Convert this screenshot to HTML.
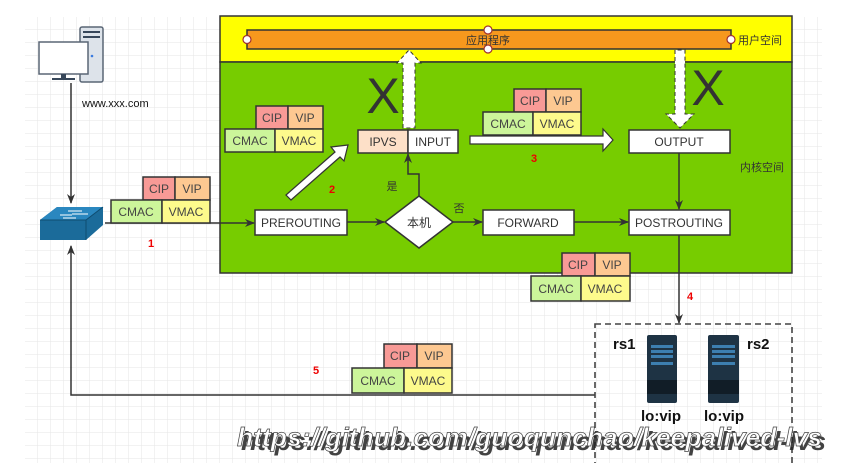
<!DOCTYPE html>
<html><head><meta charset="utf-8"><style>
html,body{margin:0;padding:0;background:#fff;}
svg{display:block;}
text{font-family:"Liberation Sans","Noto Sans CJK SC",sans-serif;}
</style></head><body>
<svg width="865" height="463" viewBox="0 0 865 463" xmlns="http://www.w3.org/2000/svg">
<defs>
<pattern id="g" width="13" height="13" patternUnits="userSpaceOnUse" x="25" y="17">
<path d="M13 0V13H0" fill="none" stroke="#e6e6e6" stroke-width="1"/>
</pattern>
<marker id="a" markerWidth="10" markerHeight="10" refX="9" refY="5" orient="auto" markerUnits="userSpaceOnUse"><path d="M0,1 L10,5 L0,9 L3,5z" fill="#333"/></marker>
</defs>
<rect x="25" y="17" width="797" height="446" fill="url(#g)"/>
<rect x="220" y="16" width="572" height="46" fill="#ffff00" stroke="#333" stroke-width="1.5"/>
<rect x="220" y="62" width="572" height="211" fill="#77cc00" stroke="#333" stroke-width="1.5"/>
<rect x="247" y="30" width="484" height="19" fill="#f7981d" stroke="#333" stroke-width="1.5"/>
<g fill="#fff" stroke="#a03030" stroke-width="1.2"><circle cx="247" cy="39.5" r="4"/><circle cx="488" cy="30" r="4"/><circle cx="488" cy="49" r="4"/><circle cx="731" cy="39.5" r="4"/></g>
<text x="488" y="44" font-size="11" text-anchor="middle" fill="#333">应用程序</text>
<text x="738" y="44" font-size="11" fill="#333">用户空间</text>
<text x="740" y="171" font-size="11" fill="#333">内核空间</text>
<text x="383" y="113" font-size="50" text-anchor="middle" fill="#333">X</text>
<text x="708" y="105" font-size="50" text-anchor="middle" fill="#333">X</text>
<path d="M403,128 V63 H397 L409,50 L421,63 H415 V128 Z" fill="#fff" stroke="#333" stroke-width="1" stroke-dasharray="4,3"/>
<path d="M675,50 V114 H666 L680,128 L694,114 H685 V50 Z" fill="#fff" stroke="#333" stroke-width="1" stroke-dasharray="4,3"/>
<g stroke="#333" stroke-width="1.5" font-size="12" fill="#333">
<rect x="358" y="130" width="50" height="23" fill="#fde0c8"/><rect x="408" y="130" width="50" height="23" fill="#fff"/>
<rect x="629" y="130" width="101" height="23" fill="#fff"/>
<rect x="255" y="210" width="92" height="25" fill="#fff"/>
<rect x="483" y="210" width="91" height="25" fill="#fff"/>
<rect x="629" y="210" width="101" height="25" fill="#fff"/>
<path d="M419,196 L453,222 L419,248 L385,222 Z" fill="#fff"/>
</g>
<g font-size="12" fill="#333" text-anchor="middle">
<text x="383" y="146">IPVS</text><text x="433" y="146">INPUT</text>
<text x="679" y="146">OUTPUT</text><text x="301" y="227">PREROUTING</text>
<text x="528" y="227">FORWARD</text><text x="679" y="227">POSTROUTING</text>
<text x="419" y="227">本机</text>
<text x="392" y="190" font-size="11">是</text><text x="459" y="212" font-size="11">否</text>
</g>
<g stroke="#333" stroke-width="1.5" fill="none">
<path d="M71,83 V203" marker-end="url(#a)"/>
<path d="M105,223 H254" marker-end="url(#a)"/>
<path d="M347,222 H384" marker-end="url(#a)"/>
<path d="M453,222 H482" marker-end="url(#a)"/>
<path d="M574,222 H628" marker-end="url(#a)"/>
<path d="M679,153 V209" marker-end="url(#a)"/>
<path d="M419,196 V174 H408 V154" marker-end="url(#a)"/>
<path d="M679,235 V323" marker-end="url(#a)"/>
<path d="M595,395 H71 V246" marker-end="url(#a)"/>
</g>
<path d="M286,195 L335,152 L331,147 L348,145 L344,161 L340,157 L291,200 Z" fill="#fff" stroke="#333" stroke-width="1.2"/>
<path d="M470,136 H603 V129 L613,140 L603,151 V144 H470 Z" fill="#fff" stroke="#333" stroke-width="1.2"/>
<g stroke="#333" stroke-width="1.5" font-size="12" fill="#333">
<rect x="143" y="177" width="32" height="23" fill="#f89a96"/><rect x="175" y="177" width="35" height="23" fill="#fdc891"/>
<rect x="111" y="200" width="51" height="23" fill="#ccf59a"/><rect x="162" y="200" width="48" height="23" fill="#fdfa8c"/>
<rect x="256" y="106" width="32" height="23" fill="#f89a96"/><rect x="288" y="106" width="35" height="23" fill="#fdc891"/>
<rect x="225" y="129" width="50" height="23" fill="#ccf59a"/><rect x="275" y="129" width="48" height="23" fill="#fdfa8c"/>
<rect x="514" y="89" width="32" height="23" fill="#f89a96"/><rect x="546" y="89" width="35" height="23" fill="#fdc891"/>
<rect x="483" y="112" width="50" height="23" fill="#ccf59a"/><rect x="533" y="112" width="48" height="23" fill="#fdfa8c"/>
<rect x="562" y="253" width="33" height="23" fill="#f89a96"/><rect x="595" y="253" width="35" height="23" fill="#fdc891"/>
<rect x="531" y="276" width="50" height="25" fill="#ccf59a"/><rect x="581" y="276" width="49" height="25" fill="#fdfa8c"/>
<rect x="384" y="344" width="33" height="24" fill="#f89a96"/><rect x="417" y="344" width="35" height="24" fill="#fdc891"/>
<rect x="352" y="368" width="52" height="25" fill="#ccf59a"/><rect x="404" y="368" width="48" height="25" fill="#fdfa8c"/>
</g>
<g font-size="12" fill="#444" text-anchor="middle">
<text x="159" y="193">CIP</text><text x="192" y="193">VIP</text><text x="136" y="216">CMAC</text><text x="186" y="216">VMAC</text>
<text x="272" y="122">CIP</text><text x="305" y="122">VIP</text><text x="250" y="145">CMAC</text><text x="299" y="145">VMAC</text>
<text x="530" y="105">CIP</text><text x="563" y="105">VIP</text><text x="508" y="128">CMAC</text><text x="557" y="128">VMAC</text>
<text x="578" y="269">CIP</text><text x="612" y="269">VIP</text><text x="556" y="293">CMAC</text><text x="605" y="293">VMAC</text>
<text x="400" y="360">CIP</text><text x="434" y="360">VIP</text><text x="378" y="385">CMAC</text><text x="428" y="385">VMAC</text>
</g>
<g font-size="11" font-weight="bold" fill="#e00" text-anchor="middle">
<text x="151" y="247">1</text><text x="332" y="193">2</text><text x="534" y="162">3</text><text x="690" y="300">4</text><text x="316" y="374">5</text>
</g>
<rect x="80" y="27" width="23" height="55" rx="2" fill="#dde3ea" stroke="#5a6675" stroke-width="1.5"/>
<rect x="83" y="31" width="17" height="2" fill="#37475a"/><rect x="83" y="36" width="17" height="2" fill="#37475a"/>
<circle cx="92" cy="56" r="1.3" fill="#3a7be0"/>
<rect x="39" y="42" width="49" height="32" fill="#fff" stroke="#5a6675" stroke-width="1.5"/>
<rect x="61" y="74" width="5" height="4" fill="#37475a"/><rect x="52" y="78" width="23" height="2" fill="#37475a"/>
<text x="82" y="107" font-size="11" fill="#111">www.xxx.com</text>
<path d="M40,220 L57,207 H103 V225 L86,240 H40 Z" fill="#1b6b9a"/>
<path d="M40,220 L57,207 H103 L86,220 Z" fill="#2a87bf"/>
<path d="M86,220 H40" stroke="#0f4c70" stroke-width="1"/>
<path d="M86,220 V240 M86,220 L103,207" stroke="#0f4c70" stroke-width="1"/>
<g stroke="#fff" stroke-width="1"><path d="M60,215 H72 M68,211 H82 M63,218 H76 M72,214 H88"/></g>
<rect x="595" y="324" width="197" height="140" fill="none" stroke="#444" stroke-width="1.6" stroke-dasharray="6,4"/>
<g>
<rect x="647" y="335" width="30" height="68" rx="2" fill="#1e3344"/>
<rect x="708" y="335" width="31" height="68" rx="2" fill="#1e3344"/>
<g fill="#3d7fb0">
<rect x="651" y="345" width="22" height="3"/><rect x="651" y="350" width="22" height="3"/><rect x="651" y="355" width="22" height="3"/><rect x="651" y="362" width="22" height="3"/>
<rect x="712" y="345" width="23" height="3"/><rect x="712" y="350" width="23" height="3"/><rect x="712" y="355" width="23" height="3"/><rect x="712" y="362" width="23" height="3"/>
</g>
<rect x="647" y="380" width="30" height="14" fill="#111d27"/><rect x="708" y="380" width="31" height="14" fill="#111d27"/>
</g>
<g font-size="15" font-weight="bold" fill="#111">
<text x="613" y="349">rs1</text><text x="747" y="349">rs2</text>
<text x="641" y="421">lo:vip</text><text x="704" y="421">lo:vip</text>
</g>
<text x="239" y="448" font-size="26" font-weight="bold" font-style="italic" fill="#222" opacity="0.85" textLength="585" lengthAdjust="spacingAndGlyphs" transform="translate(2,2)">https://github.com/guoqunchao/keepalived-lvs</text>
<text x="237" y="446" font-size="26" font-weight="bold" font-style="italic" fill="#fff" stroke="#444" stroke-width="0.7" textLength="585" lengthAdjust="spacingAndGlyphs">https://github.com/guoqunchao/keepalived-lvs</text>
</svg>
</body></html>
